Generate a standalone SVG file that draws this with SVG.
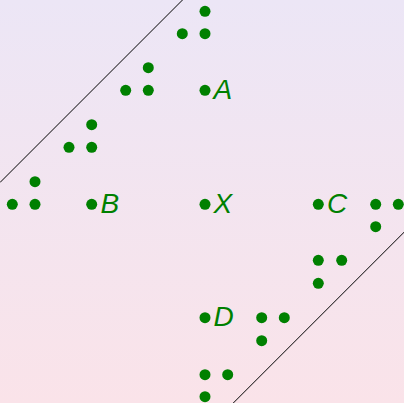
<svg xmlns="http://www.w3.org/2000/svg" width="404" height="403" viewBox="0 0 404 403">
  <defs>
    <linearGradient id="bg" x1="0" y1="0" x2="0" y2="1">
      <stop offset="0" stop-color="#ece6f6"/>
      <stop offset="1" stop-color="#fae3e9"/>
    </linearGradient>
    <circle id="dot" r="5.5" fill="#008000"/>
  </defs>
  <style>
    .lbl { font-family: "Liberation Sans", Arial, sans-serif; font-style: italic; font-size: 28px; fill: #008000; }
    .edge { stroke: #000; stroke-width: 1; fill: none; }
  </style>
  <rect width="404" height="403" fill="url(#bg)"/>
  <g id="connectors">
    <line class="edge" x1="0" y1="182.5" x2="182.5" y2="0"/>
    <line class="edge" x1="233" y1="403.3" x2="404.3" y2="232"/>
  </g>
  <g id="nodeA"><use href="#dot" x="205" y="90.3"/><text class="lbl" x="213.5" y="98.8">A</text></g>
  <g id="nodeB"><use href="#dot" x="91.7" y="204.3"/><text class="lbl" x="100.5" y="212.8">B</text></g>
  <g id="nodeX"><use href="#dot" x="205" y="204.3"/><text class="lbl" x="213.5" y="212.8">X</text></g>
  <g id="nodeC"><use href="#dot" x="318.3" y="204.3"/><text class="lbl" x="327" y="212.8">C</text></g>
  <g id="nodeD"><use href="#dot" x="205" y="317.7"/><text class="lbl" x="213.5" y="326.2">D</text></g>
  <g id="triples-upper">
    <g id="t1"><use href="#dot" x="205" y="33.7"/><use href="#dot" x="182.3" y="33.7"/><use href="#dot" x="205" y="11.3"/></g>
    <g id="t2"><use href="#dot" x="148.3" y="90.3"/><use href="#dot" x="125.7" y="90.3"/><use href="#dot" x="148.3" y="67.7"/></g>
    <g id="t3"><use href="#dot" x="91.7" y="147.3"/><use href="#dot" x="69" y="147.3"/><use href="#dot" x="91.7" y="124.7"/></g>
    <g id="t4"><use href="#dot" x="35" y="204.3"/><use href="#dot" x="12.3" y="204.3"/><use href="#dot" x="35" y="181.7"/></g>
  </g>
  <g id="triples-lower">
    <g id="t5"><use href="#dot" x="375.7" y="204.3"/><use href="#dot" x="398.3" y="204.3"/><use href="#dot" x="375.7" y="226.7"/></g>
    <g id="t6"><use href="#dot" x="318.3" y="260.3"/><use href="#dot" x="341.7" y="260.3"/><use href="#dot" x="318.3" y="283.3"/></g>
    <g id="t7"><use href="#dot" x="261.7" y="317.7"/><use href="#dot" x="284.3" y="317.7"/><use href="#dot" x="261.7" y="340.7"/></g>
    <g id="t8"><use href="#dot" x="205" y="374.7"/><use href="#dot" x="227.7" y="374.7"/><use href="#dot" x="205" y="396.7"/></g>
  </g>
</svg>
